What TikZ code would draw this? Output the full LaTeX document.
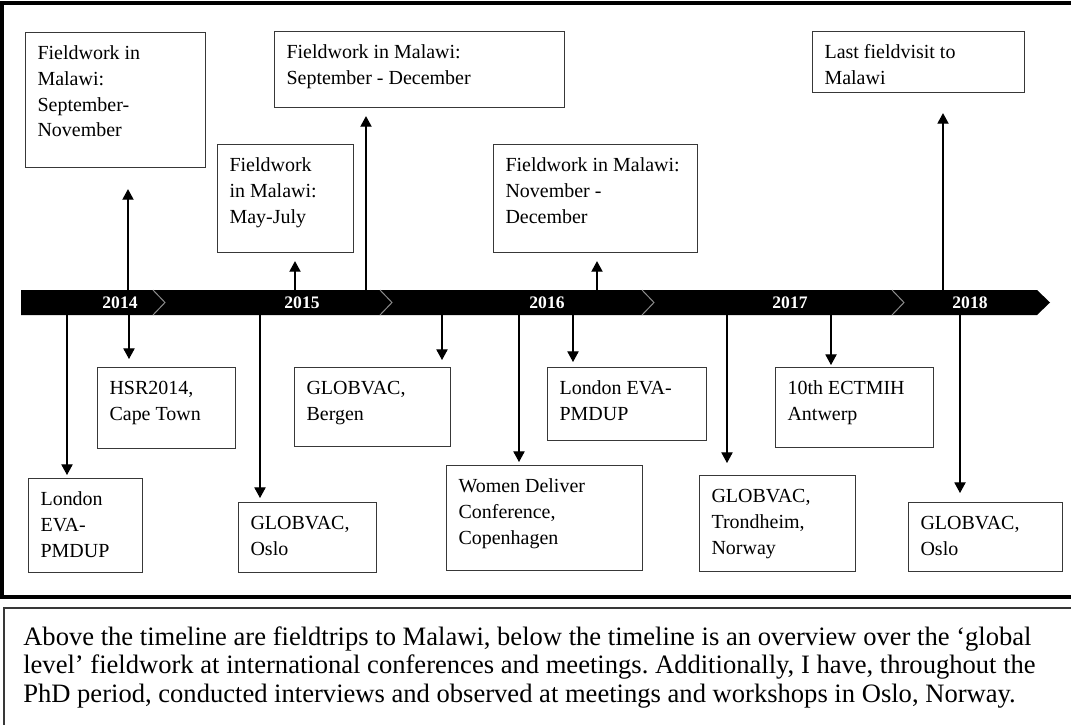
\documentclass[tikz,border=0pt]{standalone}
\usepackage{fontspec}
\setmainfont{Liberation Serif}
\usepackage{xcolor}
\usepackage{tikz}
\usetikzlibrary{arrows.meta}

\definecolor{boxline}{HTML}{383838}
\definecolor{chevroncol}{HTML}{8C8C8C}

\newcommand{\evfont}{\fontsize{14.2}{18.3}\selectfont}
\newcommand{\notefont}{\fontsize{18.9}{20.4}\selectfont\frenchspacing}

\tikzset{
  evbox/.style 2 args={draw=boxline, line width=0.8pt, anchor=north west, align=flush left,
    font=\evfont, inner xsep=0.3cm, inner ysep=0.15cm,
    text width={(#1-24)*0.025cm}, text height=0.53cm, text depth={(#2-33.2)*0.025cm}},
  evarrow/.style={-{Triangle[length=7.5pt,width=8pt]}, line width=0.75pt},
  yearlabel/.style={text=white, font=\bfseries\fontsize{12.5}{14}\selectfont, inner sep=0pt}
}

\begin{document}
\begin{tikzpicture}[x=0.025cm, y=-0.025cm]
\useasboundingbox (0,0) rectangle (1071,724);
\clip (0,0) rectangle (1071,724);

% frame round the timeline
\draw[line width=2.2pt] (2,3) rectangle (1090,597);

% the bar
\fill (21,290) -- (1037,290) -- (1050,302.5) -- (1037,315) -- (21,315) -- cycle;
\foreach \x in {153,380,642,892}
  \draw[draw=chevroncol, line width=0.7pt] (\x,290) -- (\x+12,302.5) -- (\x,315);

\begin{scope}[every node/.style=yearlabel]
\node (y2014) at (120,302.5) {2014};
\node (y2015) at (302,302.5) {2015};
\node (y2016) at (547,302.5) {2016};
\node (y2017) at (790,302.5) {2017};
\node (y2018) at (970,302.5) {2018};
\end{scope}

% fieldtrips, above
\node[evbox={180}{135}] (fwA) at (25,32) {Fieldwork in\\Malawi:\\September-\\November};
\node[evbox={290}{76}] (fwB) at (274,31) {Fieldwork in Malawi:\\September - December};
\node[evbox={136}{108}] (fwC) at (217,144) {Fieldwork\\in Malawi:\\May-July};
\node[evbox={204}{108}] (fwD) at (493,144) {Fieldwork in Malawi:\\November -\\December};
\node[evbox={212}{61}] (fwE) at (812,31) {Last fieldvisit to\\Malawi};

% conferences, below
\node[evbox={114}{94}] (lonA) at (28,478) {London\\EVA-\\PMDUP};
\node[evbox={138}{81}] (hsr) at (97,367) {HSR2014,\\Cape Town};
\node[evbox={138}{70}] (osloA) at (238,502) {GLOBVAC,\\Oslo};
\node[evbox={156}{79}] (bergen) at (294,367) {GLOBVAC,\\Bergen};
\node[evbox={196}{105}] (women) at (446,465) {Women Deliver\\Conference,\\Copenhagen};
\node[evbox={159}{73}] (lonB) at (547,367) {London EVA-\\PMDUP};
\node[evbox={156}{96}] (trond) at (699,475) {GLOBVAC,\\Trondheim,\\Norway};
\node[evbox={158}{80}] (ectmih) at (775,367) {10th ECTMIH\\Antwerp};
\node[evbox={154}{69}] (osloB) at (908,502) {GLOBVAC,\\Oslo};

\coordinate (upA) at (128,290);
\coordinate (upC) at (295,290);
\coordinate (upB) at (366,290);
\coordinate (upD) at (597,290);
\coordinate (upE) at (943,290);
\coordinate (dnLonA) at (67,315);
\coordinate (dnHsr) at (129,315);
\coordinate (dnOsloA) at (260,315);
\coordinate (dnBergen) at (442,315);
\coordinate (dnWomen) at (519,315);
\coordinate (dnLonB) at (573,315);
\coordinate (dnTrond) at (727,315);
\coordinate (dnEct) at (831,315);
\coordinate (dnOsloB) at (960,315);

\begin{scope}
\path [evarrow] (upA) edge[shorten >=0.525cm] (upA |- fwA.south);
\path [evarrow] (upC) edge[shorten >=0.2cm] (upC |- fwC.south);
\path [evarrow] (upB) edge[shorten >=0.2cm] (upB |- fwB.south);
\path [evarrow] (upD) edge[shorten >=0.2cm] (upD |- fwD.south);
\path [evarrow] (upE) edge[shorten >=0.5cm] (upE |- fwE.south);
\path [evarrow] (dnLonA) edge[shorten >=0.075cm] (dnLonA |- lonA.north);
\path [evarrow] (dnHsr) edge[shorten >=0.2cm] (dnHsr |- hsr.north);
\path [evarrow] (dnOsloA) edge[shorten >=0.1cm] (dnOsloA |- osloA.north);
\path [evarrow] (dnBergen) edge[shorten >=0.175cm] (dnBergen |- bergen.north);
\path [evarrow] (dnWomen) edge[shorten >=0.075cm] (dnWomen |- women.north);
\path [evarrow] (dnLonB) edge[shorten >=0.125cm] (dnLonB |- lonB.north);
\path [evarrow] (dnTrond) edge[shorten >=0.3cm] (dnTrond |- trond.north);
\path [evarrow] (dnEct) edge[shorten >=0.05cm] (dnEct |- ectmih.north);
\path [evarrow] (dnOsloB) edge[shorten >=0.225cm] (dnOsloB |- osloB.north);
\end{scope}

% note under the figure
\draw[draw=boxline, line width=1.1pt] (4,608) rectangle (1090,740);
\node[anchor=base west, text width=26.1cm, align=flush left, inner sep=0pt, font=\notefont] (note) at (23,645)
  {Above the timeline are fieldtrips to Malawi, below the timeline is an overview over the ‘global\\
   level’ fieldwork at international conferences and meetings. Additionally, I have, throughout the\\
   PhD period, conducted interviews and observed at meetings and workshops in Oslo, Norway.};

\end{tikzpicture}
\end{document}
